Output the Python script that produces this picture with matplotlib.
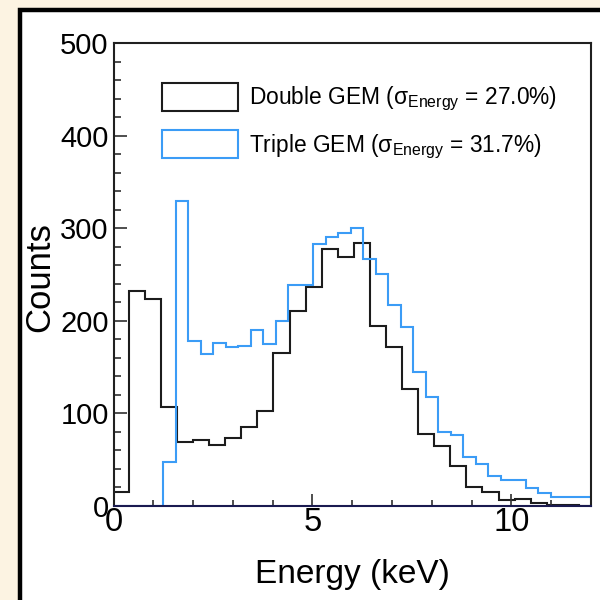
import numpy as np
import matplotlib.pyplot as plt
from matplotlib.patches import Patch, Rectangle

plt.rcParams['font.family'] = ['Liberation Sans', 'DejaVu Sans']
plt.rcParams['mathtext.fontset'] = 'custom'
plt.rcParams['mathtext.rm'] = 'Liberation Sans'
plt.rcParams['mathtext.it'] = 'Liberation Sans'
plt.rcParams['mathtext.default'] = 'regular'

# energy spectra, counts per bin
double_counts = [15, 232, 224, 107, 69, 71, 66, 73, 85, 103,
                 165, 211, 236, 277, 269, 284, 194, 172, 126, 78,
                 65, 43, 20, 15, 7, 8, 3, 1.5, 1, 0]
triple_counts = [0, 0, 0, 0, 48, 329, 178, 164, 176, 172,
                 173, 190, 175, 200, 239, 239, 283, 290, 295, 300,
                 267, 251, 217, 193, 145, 118, 80, 77, 53, 45,
                 32, 28, 28, 19, 14, 10, 10, 10, 10]
double_bin_width = 0.404
double_first_edge = -0.02
triple_bin_width = 0.314

double_label = r'Double GEM ($\sigma_{Energy}$ = 27.0%)'
triple_label = r'Triple GEM ($\sigma_{Energy}$ = 31.7%)'

double_edges = double_first_edge + double_bin_width * np.arange(len(double_counts) + 1)
triple_edges = triple_bin_width * np.arange(len(triple_counts) + 1)

black = '#1c1c1c'
blue = '#3b9cf6'

fig = plt.figure(figsize=(6, 6), dpi=100, facecolor='#fcf3e2')
# white panel with a heavy black border
fig.add_artist(Rectangle((19.5 / 600, -0.1), 1.0, 1 - 9.5 / 600 + 0.1,
                         transform=fig.transFigure, facecolor='white',
                         edgecolor='black', lw=3.2, zorder=-5))

ax = fig.add_axes([113.5 / 600, 94 / 600, 477.5 / 600, 463 / 600])
ax.set_facecolor('white')

ax.stairs(double_counts, double_edges, baseline=0, color=black, lw=1.5)
ax.stairs(triple_counts, triple_edges, baseline=0, color=blue, lw=1.5)

ax.set_xlim(0, 12)
ax.set_ylim(0, 500)
ax.set_xticks([0, 5, 10])
ax.set_xticks(np.arange(0, 13, 1), minor=True)
ax.set_yticks(np.arange(0, 501, 100))
ax.set_yticks(np.arange(0, 501, 20), minor=True)

for s in ax.spines.values():
    s.set_color('#202020')
    s.set_linewidth(1.5)
ax.spines['bottom'].set_color('#1a1a50')

ax.tick_params(axis='both', which='both', direction='in', color='#303030', width=1.2)
ax.tick_params(axis='y', which='major', length=9.5, labelsize=21, pad=3.5)
ax.tick_params(axis='y', which='minor', length=5)
ax.tick_params(axis='x', which='major', length=9, labelsize=23.5, pad=1)
ax.tick_params(axis='x', which='minor', length=4)

fig.text(40 / 600, 1 - 277 / 600, 'Counts', rotation=90, ha='center', va='center', fontsize=25)
fig.text(352 / 600, 1 - 575 / 600, 'Energy (keV)', ha='center', va='center', fontsize=24)

handles = [Patch(facecolor='white', edgecolor=black, lw=1.5),
           Patch(facecolor='white', edgecolor=blue, lw=1.5)]
ax.legend(handles, [double_label, triple_label], loc='upper left',
          bbox_to_anchor=(0.1025, 0.914), frameon=False, fontsize=16.4,
          borderpad=0, borderaxespad=0, handlelength=3.3, handleheight=1.55,
          handletextpad=0.5, labelspacing=0.72)

fig.savefig('out.png', dpi=100, facecolor=fig.get_facecolor())
